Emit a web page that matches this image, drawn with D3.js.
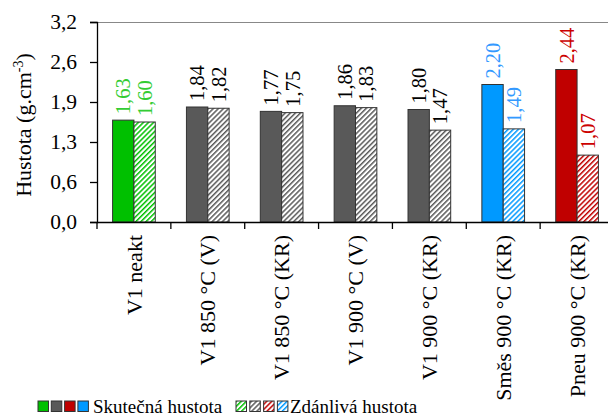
<!DOCTYPE html>
<html><head><meta charset="utf-8">
<script src="https://cdn.jsdelivr.net/npm/d3@7"></script>
<style>
html,body{margin:0;padding:0;background:#fff;}
svg, svg text{font-family:"Liberation Serif","Tinos","Times New Roman","DejaVu Serif",serif !important;}
</style></head>
<body><svg id="c" width="608" height="416"></svg>
<script>
const categories = ["V1 neakt","V1 850 °C (V)","V1 850 °C (KR)","V1 900 °C (V)","V1 900 °C (KR)","Směs 900 °C (KR)","Pneu 900 °C (KR)"];
const skutecna = [1.63,1.84,1.77,1.86,1.80,2.20,2.44];
const zdanliva = [1.60,1.82,1.75,1.83,1.47,1.49,1.07];
const barColors = ["#00c000","#595959","#595959","#595959","#595959","#0099ff","#c00000"];
const labelColors = ["#33cc33","#000000","#000000","#000000","#000000","#3399ff","#cc0000"];
const yTickValues = [0,0.64,1.28,1.92,2.56,3.2];
const yTickLabels = ["0,0","0,6","1,3","1,9","2,6","3,2"];
const legendColors = ["#00c000","#595959","#c00000","#0099ff"];
const fmt = v => v.toFixed(2).replace(".", ",");

const svg = d3.select("#c");
const m = {left:97, top:22, bottom:222};
const plotW = 517;
const x = d3.scaleBand().domain(categories).range([m.left, m.left+plotW]).paddingInner(0.422).paddingOuter(0.211);
const y = d3.scaleLinear().domain([0,3.2]).range([m.bottom, m.top]);
const bw = x.bandwidth()/2;

// patterns
const defs = svg.append("defs");
const uniq = Array.from(new Set(barColors.concat(legendColors)));
uniq.forEach(c=>{
  const p = defs.append("pattern").attr("id","h"+c.slice(1)).attr("patternUnits","userSpaceOnUse")
    .attr("width",3.6).attr("height",3.6).attr("patternTransform","rotate(45)");
  p.append("rect").attr("width",3.6).attr("height",3.6).attr("fill","#fff");
  p.append("rect").attr("x",0).attr("width",1.5).attr("height",3.6).attr("fill",c);
});

// top frame
svg.append("line").attr("x1",m.left).attr("x2",608).attr("y1",m.top+0.5).attr("y2",m.top+0.5).attr("stroke","#888").attr("stroke-width",1.2);

// bars
const g = svg.append("g");
categories.forEach((c,i)=>{
  const x0 = x(c);
  g.append("rect").attr("x",x0).attr("y",y(skutecna[i])).attr("width",bw).attr("height",y(0)-y(skutecna[i]))
    .attr("fill",barColors[i]).attr("stroke","#333").attr("stroke-width",1);
  g.append("rect").attr("x",x0+bw).attr("y",y(zdanliva[i])).attr("width",bw).attr("height",y(0)-y(zdanliva[i]))
    .attr("fill","url(#h"+barColors[i].slice(1)+")").attr("stroke","#333").attr("stroke-width",1);
  [[skutecna[i],x0+bw/2],[zdanliva[i],x0+bw*1.5]].forEach(([v,cx])=>{
    g.append("text").attr("transform",`translate(${cx},${y(v)-6}) rotate(-90)`)
      .attr("dy","0.35em").attr("font-size",20.5).attr("fill",labelColors[i]).text(fmt(v));
  });
});

// y axis
const ya = d3.axisLeft(y).tickValues(yTickValues).tickFormat((d,i)=>yTickLabels[i]).tickSizeOuter(0).tickSize(7).tickPadding(13);
const yg = svg.append("g").attr("transform",`translate(${m.left},0)`).call(ya);
yg.attr("font-family",null);
yg.selectAll("text").attr("font-size",21.5).attr("fill","#000");
yg.selectAll("line,path").attr("stroke","#000").attr("stroke-width",1.3);

// x axis
const xa = d3.axisBottom(x).tickSize(0).tickSizeOuter(0);
const xg = svg.append("g").attr("transform",`translate(0,${m.bottom})`).call(xa);
xg.attr("font-family",null);
xg.select("path").attr("stroke","#000").attr("stroke-width",1.3).attr("d",`M${m.left},0.5H608`);
xg.selectAll(".tick text").attr("font-size",22).attr("fill","#000")
  .attr("text-anchor","end").attr("transform","rotate(-90)").attr("x",-13).attr("y",0).attr("dy","0.35em");
// boundary ticks
const bounds = categories.map(c=>x(c)-x.step()*x.paddingInner()/2);
xg.selectAll(".btick").data(bounds).enter().append("line").attr("class","btick")
  .attr("x1",d=>d).attr("x2",d=>d).attr("y1",0).attr("y2",7).attr("stroke","#000").attr("stroke-width",1.3);

// y title
svg.append("text").attr("transform","translate(31,125) rotate(-90)").attr("text-anchor","middle")
  .attr("font-size",22).html('Hustota (g.cm<tspan dy="-8" font-size="14">-3</tspan><tspan dy="8">)</tspan>');

// legend
const lg = svg.append("g");
legendColors.forEach((c,i)=>{
  lg.append("rect").attr("x",38+i*13.3).attr("y",401).attr("width",10.5).attr("height",10.5).attr("fill",c).attr("stroke","#333");
  lg.append("rect").attr("x",236+i*13.8).attr("y",401).attr("width",10.5).attr("height",10.5).attr("fill","url(#h"+c.slice(1)+")").attr("stroke","#333");
});
lg.append("text").attr("x",93).attr("y",413).attr("font-size",19).text("Skutečná hustota");
lg.append("text").attr("x",290).attr("y",413).attr("font-size",19).text("Zdánlivá hustota");
</script></body></html>
